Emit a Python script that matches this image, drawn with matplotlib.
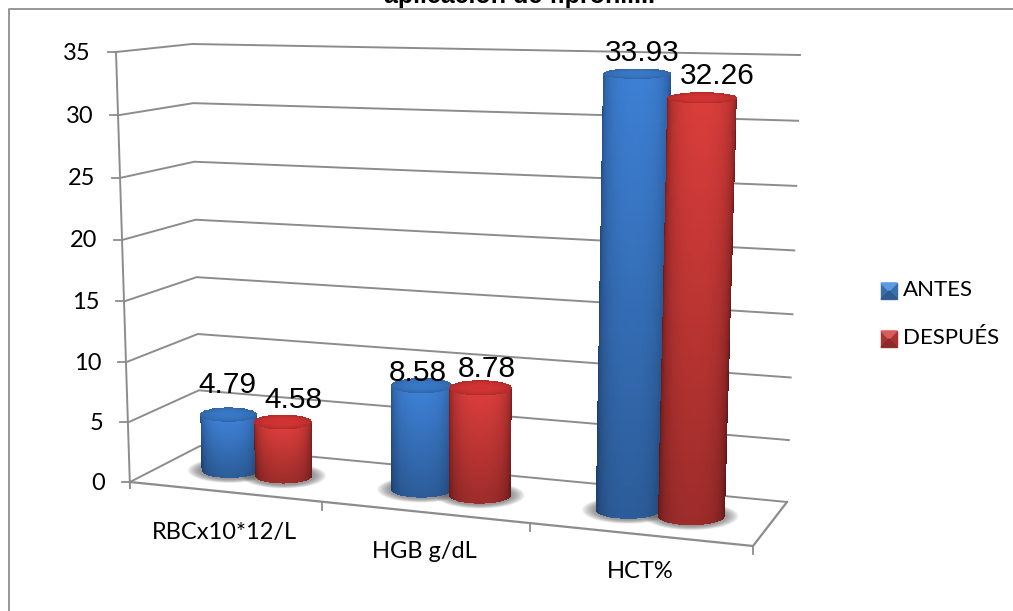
import numpy as np
import matplotlib
matplotlib.use("Agg")
import matplotlib.pyplot as plt
from matplotlib.patches import Ellipse

categories = ["RBCx10*12/L", "HGB g/dL", "HCT%"]
antes = [4.79, 8.58, 33.93]
despues = [4.58, 8.78, 32.26]
series_names = ["ANTES", "DESPUÉS"]
y_ticks = [0, 5, 10, 15, 20, 25, 30, 35]

# pixel positions of the eight corners of the chart box: (side, depth, level)
BOX = {
    (0, 0, 0): (130, 482), (0, 0, 1): (116, 52),
    (0, 1, 0): (200, 446), (0, 1, 1): (192, 44),
    (1, 1, 0): (787, 502), (1, 1, 1): (800, 55),
    (1, 0, 0): (753, 546), (1, 0, 1): (770, 71),
}
YMAX = 35.0
WIDTH, HEIGHT = 1013, 611
HALF = 0.152


def project(u, v, w):
    # u category position (0-3), v value, w depth (0 front, 1 back)
    s = u / 3.0
    s = 0.886 * s + 0.114 * s * s
    t = v / YMAX
    t = t - 0.035 * t * (1 - t)
    out = np.zeros(2)
    for (a, b, c), xy in BOX.items():
        k = (s if a else 1 - s) * (w if b else 1 - w) * (t if c else 1 - t)
        out = out + k * np.array(xy, dtype=float)
    return out


def ellipse_ratio(v):
    # rings look flatter the higher they sit
    return 0.27 - 0.12 * v / YMAX


def shade(light, dark, n=70):
    # colour across the cylinder: dark rims, lighter middle
    pos = np.linspace(-1, 1, n)
    k = np.abs(pos) ** 2.4
    cols = np.zeros((n, 3))
    for i in range(3):
        cols[:, i] = light[i] * (1 - k) + dark[i] * k
    return cols


def draw_cylinder(ax, u, value, base_cols, cap_col, zorder):
    bl = project(u - HALF, 0, 0.5)
    br = project(u + HALF, 0, 0.5)
    tl = project(u - HALF, value, 0.5)
    tr = project(u + HALF, value, 0.5)

    theta = np.linspace(np.pi, 0, 71)
    rows = np.linspace(0, 1, 41)
    X = np.zeros((41, 71))
    Y = np.zeros((41, 71))
    for i, r in enumerate(rows):
        left = bl * (1 - r) + tl * r
        right = br * (1 - r) + tr * r
        c = (left + right) / 2
        rx = (right[0] - left[0]) / 2
        X[i] = c[0] + rx * np.cos(theta)
        Y[i] = c[1] + rx * ellipse_ratio(value * r) * np.sin(theta)

    cols = shade(*base_cols)
    vert = (0.72 + 0.28 * (rows[:-1] + rows[1:]) / 2)[:, None, None]
    C = cols[None, :, :] * vert
    ax.pcolormesh(X, Y, np.clip(C, 0, 1), zorder=zorder, shading="flat")

    # top cap
    c = (tl + tr) / 2
    rx = (tr[0] - tl[0]) / 2
    rr = np.linspace(0, 1, 16)
    th = np.linspace(0, 2 * np.pi, 73)
    RR, TH = np.meshgrid(rr, th, indexing="ij")
    XC = c[0] + rx * RR * np.cos(TH)
    YC = c[1] + rx * ellipse_ratio(value) * RR * np.sin(TH)
    k = ((rr[:-1] + rr[1:]) / 2)[:, None, None] ** 3
    cap = np.array(cap_col)[None, None, :] * (1 - 0.16 * k) * np.ones((15, 72, 3))
    ax.pcolormesh(XC, YC, cap, zorder=zorder + 0.1, shading="flat")


def draw_shadow(ax, u, zorder):
    bl = project(u - HALF, 0, 0.5)
    br = project(u + HALF, 0, 0.5)
    c = (bl + br) / 2
    rx = (br[0] - bl[0]) / 2
    for g in np.linspace(1, 0.72, 16):
        ax.add_patch(Ellipse((c[0], c[1]), 2 * (rx + 14) * g, 2 * (rx * 0.27 + 5) * g,
                             facecolor="#555555", alpha=0.05, edgecolor="none", zorder=zorder))


fig = plt.figure(figsize=(WIDTH / 100, HEIGHT / 100), dpi=100)
ax = fig.add_axes([0, 0, 1, 1])
ax.axis("off")

grid_color = "#8c8c8c"
ui_font = ["Lato", "DejaVu Sans"]
num_font = ["Liberation Sans", "DejaVu Sans"]

# outer chart frame
ax.plot([8.5, 8.5, WIDTH + 5], [HEIGHT + 5, 8.5, 8.5], color="#8f8f8f", lw=1.3, zorder=1)

# gridlines on the side and back walls, with value labels
for val in y_ticks:
    pts = [project(0, val, 0), project(0, val, 1), project(3, val, 1)]
    xs = [p[0] for p in pts]
    ys = [p[1] for p in pts]
    ax.plot(xs, ys, color=grid_color, lw=1.4, zorder=2)
    p = pts[0]
    ax.plot([p[0] - 8, p[0]], [p[1], p[1]], color=grid_color, lw=1.3, zorder=2)
    ax.text(p[0] - 25, p[1] + 1, str(val), ha="right", va="center",
            fontsize=17, family=ui_font, color="black")

# value axis and floor outline
p0, p1 = project(0, 0, 0), project(0, YMAX, 0)
ax.plot([p0[0], p1[0]], [p0[1] + 6, p1[1]], color=grid_color, lw=1.4, zorder=2)
floor = [project(0, 0, 0), project(3, 0, 0), project(3, 0, 1)]
ax.plot([p[0] for p in floor], [p[1] for p in floor], color=grid_color, lw=1.6, zorder=2)

# category ticks and labels
label_xy = [(224, 533), (424, 552), (640, 572)]
for i in range(1, 4):
    p = project(i, 0, 0)
    ax.plot([p[0], p[0]], [p[1], p[1] + 8], color=grid_color, lw=1.3, zorder=2)
for name, xy in zip(categories, label_xy):
    ax.text(xy[0], xy[1], name, ha="center", va="center", fontsize=17, family=ui_font, color="black")

blue = ((0.24, 0.50, 0.83), (0.13, 0.29, 0.50))
red = ((0.85, 0.24, 0.23), (0.45, 0.11, 0.11))
blue_cap = (0.22, 0.47, 0.77)
red_cap = (0.82, 0.20, 0.20)
offset = 0.145

for i in range(len(categories)):
    draw_shadow(ax, i + 0.5 - offset, 3)
    draw_shadow(ax, i + 0.5 + offset, 3)

for i in range(len(categories)):
    draw_cylinder(ax, i + 0.5 - offset, antes[i], blue, blue_cap, 4 + i)
    draw_cylinder(ax, i + 0.5 + offset, despues[i], red, red_cap, 4.5 + i)

# value labels above each cylinder, nudged off the tops
antes_nudge = [(-1, -30), (-3, -13), (5, -21)]
despues_nudge = [(11, -22), (6, -19), (15, -22)]
for i in range(len(categories)):
    for vals, du, nudge in ((antes, -offset, antes_nudge), (despues, offset, despues_nudge)):
        p = project(i + 0.5 + du, vals[i], 0.5)
        ax.text(p[0] + nudge[i][0], p[1] + nudge[i][1], f"{vals[i]:.2f}", ha="center", va="center",
                fontsize=21.5, family=num_font, color="black", zorder=10)

# legend
legend_y = [291, 339]
legend_cols = [("#3a6ea8", "#5b9be0", "#2f5a90"), ("#a83232", "#d85c5c", "#8a2a2a")]
for name, y, (mid, hi, lo) in zip(series_names, legend_y, legend_cols):
    ax.fill([881, 897, 897, 881], [y - 8, y - 8, y + 8, y + 8], color=mid, zorder=5)
    ax.fill([881, 897, 889], [y - 8, y - 8, y], color=hi, zorder=6)
    ax.fill([881, 897, 889], [y + 8, y + 8, y], color=lo, zorder=6)
    ax.text(903, y - 1, name, ha="left", va="center", fontsize=16, family=ui_font, color="black")

# title runs off the top edge
ax.text(519, 3.5, "aplicación de fipronil...", ha="center", va="baseline", fontsize=18,
        fontweight="bold", family=num_font, color="black", clip_on=True)

ax.set_xlim(0, WIDTH)
ax.set_ylim(HEIGHT, 0)
fig.savefig("out.png", dpi=100)
